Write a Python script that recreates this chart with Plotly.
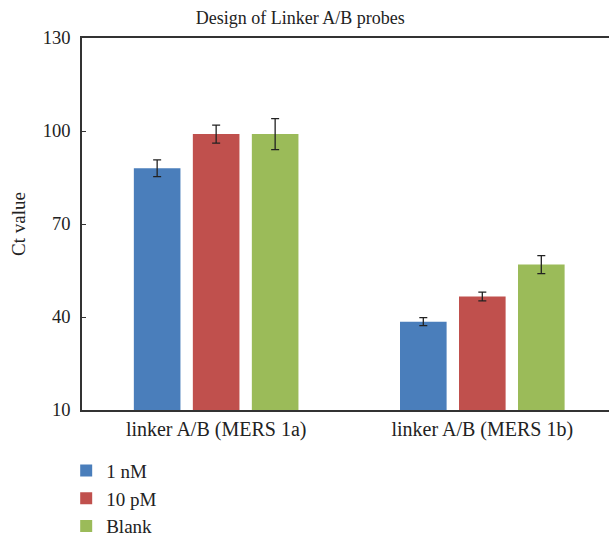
import plotly.graph_objects as go

categories = ["linker A/B (MERS 1a)", "linker A/B (MERS 1b)"]
series_names = ["1 nM", "10 pM", "Blank"]
values_1nM = [88.0, 38.5]
values_10pM = [99.0, 46.6]
values_blank = [99.0, 56.9]
err_1nM = [2.7, 1.3]
err_10pM = [2.9, 1.4]
err_blank = [5.0, 2.9]
colors = ["#4a7ebb", "#c0504d", "#9bbb59"]

FONT = "Liberation Serif"

fig = go.Figure()
for name, vals, errs, col in zip(series_names,
                                 [values_1nM, values_10pM, values_blank],
                                 [err_1nM, err_10pM, err_blank], colors):
    fig.add_trace(go.Bar(
        x=categories, y=vals, name=name, marker_color=col, marker_line_width=0,
        error_y=dict(type="data", array=errs, visible=True, color="#222222",
                     thickness=1.3, width=4),
    ))

fig.update_layout(
    width=609, height=539,
    margin=dict(l=82, r=0, t=38, b=129, autoexpand=False),
    plot_bgcolor="white", paper_bgcolor="white",
    font=dict(family=FONT, size=18, color="#222222"),
    title=dict(text="Design of Linker A/B probes", x=0.493, xanchor="center",
               y=0.968, yanchor="middle", font=dict(family=FONT, size=18, color="#222222")),
    barmode="group", bargap=0.335, bargroupgap=0.21,
    showlegend=True,
    legend=dict(x=-0.03, xanchor="left", y=-0.112, yanchor="top",
                font=dict(family=FONT, size=19, color="#222222"),
                bgcolor="rgba(0,0,0,0)", tracegroupgap=0, itemwidth=30),
    xaxis=dict(range=[-0.504, 1.476], showline=True, linecolor="#333333", linewidth=1.5,
               mirror=True, ticks="", showgrid=False, automargin=False,
               tickfont=dict(family=FONT, size=20, color="#222222")),
    yaxis=dict(range=[10, 130], tickvals=[10, 40, 70, 100, 130], showline=True,
               linecolor="#333333", linewidth=1.5, ticks="inside", ticklen=4,
               tickcolor="#333333", showgrid=False, zeroline=False, automargin=False,
               ticklabelstandoff=6,
               title=dict(text="Ct value", font=dict(family=FONT, size=19, color="#222222"), standoff=12),
               tickfont=dict(family=FONT, size=18.5, color="#222222")),
)

fig.write_html("out.html")
